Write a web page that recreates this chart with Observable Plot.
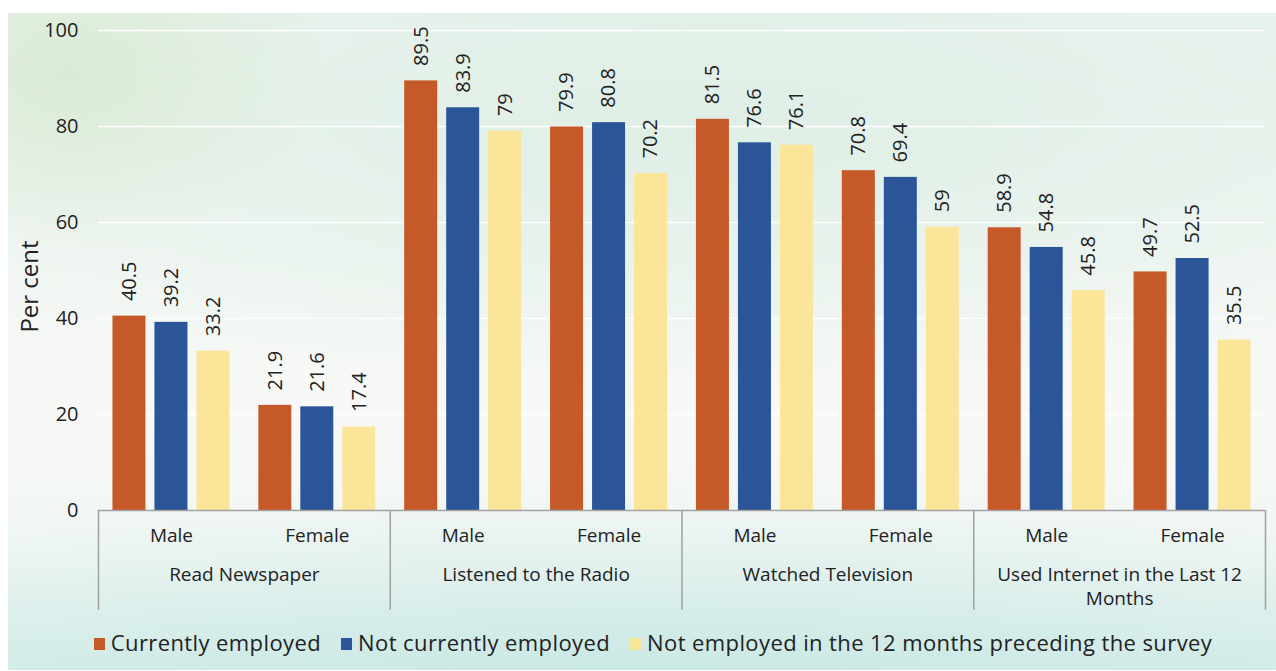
<!DOCTYPE html>
<html>
<head>
<meta charset="utf-8">
<script src="https://cdn.jsdelivr.net/npm/d3@7"></script>
<script src="https://cdn.jsdelivr.net/npm/@observablehq/plot@0.6"></script>
<style>
  html, body { margin: 0; padding: 0; background: #ffffff; }
  #wrap {
    position: absolute; left: 8px; top: 13px; width: 1268px; height: 657px;
    background:
      radial-gradient(ellipse 260px 180px at 60px 60px, rgba(214,232,205,0.75), rgba(214,232,205,0) 100%),
      radial-gradient(ellipse 900px 260px at 700px 120px, rgba(220,238,228,0.85), rgba(220,238,228,0) 100%),
      radial-gradient(ellipse 1300px 200px at 640px 680px, rgba(200,232,228,0.95), rgba(200,232,228,0) 100%),
      linear-gradient(#eaf3ee 0%, #f1f6f2 35%, #f8f9f7 60%, #f0f6f3 85%, #ddefec 100%);
  }
  #chart { position: absolute; left: 0; top: 0; }
  #legend {
    position: absolute; left: 15px; top: 627px; width: 1276px; text-align: center;
    font-family: "Open Sans", sans-serif; font-size: 22px; letter-spacing: 0.4px; color: #222;
  }
  #legend span.item { display: inline-block; margin: 0 10px; }
  #legend span.sw { display: inline-block; width: 11px; height: 12px; margin-right: 6px; vertical-align: 1px; }
</style>
</head>
<body>
<div id="wrap"></div>
<div id="chart"></div>
<div id="legend"></div>
<script>
const media = ["Read Newspaper", "Listened to the Radio", "Watched Television", "Used Internet in the Last 12 Months"];
const sexes = ["Male", "Female"];
const statuses = ["Currently employed", "Not currently employed", "Not employed in the 12 months preceding the survey"];
const colors = ["#C55A28", "#2A5699", "#FBE599"];
// values ordered: media x sex (Male, Female)
const currentlyEmployed = [40.5, 21.9, 89.5, 79.9, 81.5, 70.8, 58.9, 49.7];
const notCurrentlyEmployed = [39.2, 21.6, 83.9, 80.8, 76.6, 69.4, 54.8, 52.5];
const notEmployed12Months = [33.2, 17.4, 79, 70.2, 76.1, 59, 45.8, 35.5];
const yTicks = [0, 20, 40, 60, 80, 100];
const yTitle = "Per cent";
const mediaLabels = {
  "Read Newspaper": "Read Newspaper",
  "Listened to the Radio": "Listened to the Radio",
  "Watched Television": "Watched Television",
  "Used Internet in the Last 12 Months": "Used Internet in the Last 12\nMonths"
};

const seriesValues = [currentlyEmployed, notCurrentlyEmployed, notEmployed12Months];
const rows = [];
media.forEach((m, mi) => sexes.forEach((s, si) => statuses.forEach((st, ki) => {
  rows.push({media: m, sex: s, status: st, value: seriesValues[ki][mi * 2 + si]});
})));

const W = 1276, mL = 98, mR = 11;
const sub = (W - mL - mR) / (media.length * sexes.length);
const barW = 33, gap = 9;
const pad = (sub - 3 * barW - 2 * gap) / 2;
const font = '"Open Sans", sans-serif';

const marks = [
  Plot.gridY(yTicks, {stroke: "#ffffff", strokeOpacity: 1, strokeWidth: 1.3}),
];
statuses.forEach((st, k) => {
  const left = pad + k * (barW + gap);
  marks.push(Plot.barY(rows.filter(d => d.status === st), {
    fx: "media", x: "sex", y: "value", fill: colors[k],
    insetLeft: left, insetRight: sub - left - barW
  }));
  marks.push(Plot.text(rows.filter(d => d.status === st), {
    fx: "media", x: "sex", y: "value", text: d => String(d.value),
    rotate: -90, textAnchor: "start", dy: -15, dx: left + barW / 2 - sub / 2,
    fontSize: 20, fill: "#222", fontFamily: font
  }));
});
marks.push(
  Plot.ruleY([0], {stroke: "#a0a0a0", strokeWidth: 1.5}),
  Plot.ruleX(media.map(m => ({media: m, sex: "Male"})), {fx: "media", x: "sex", y1: 0, y2: -20.8, dx: -sub / 2, stroke: "#a0a0a0", strokeWidth: 1.5}),
  Plot.ruleX([{media: media[media.length - 1], sex: "Female"}], {fx: "media", x: "sex", y1: 0, y2: -20.8, dx: sub / 2, stroke: "#a0a0a0", strokeWidth: 1.5}),
  Plot.axisY(yTicks, {tickSize: 0, tickPadding: 20, fontSize: 20, label: null}),
  Plot.text([{media: media[0]}], {fx: "media", text: () => yTitle, frameAnchor: "left", textAnchor: "middle", rotate: -90, dx: -68, dy: 16, fontSize: 24, fill: "#222", fontFamily: font}),
  Plot.axisX({tickSize: 0, tickPadding: 18, fontSize: 19, letterSpacing: 0.5, label: null}),
  Plot.axisFx({anchor: "bottom", tickSize: 0, tickPadding: 54, fontSize: 19, letterSpacing: 0.5, lineHeight: 1.25, label: null, tickFormat: d => mediaLabels[d]})
);

const chart = Plot.plot({
  width: W, height: 625,
  marginLeft: mL, marginRight: mR, marginTop: 30, marginBottom: 115,
  style: {fontFamily: font, fontSize: "19px", color: "#222", background: "transparent", overflow: "visible"},
  fx: {domain: media, padding: 0, round: false},
  x: {domain: sexes, padding: 0, round: false},
  y: {domain: [0, 100]},
  marks
});
document.getElementById("chart").appendChild(chart);

const legend = document.getElementById("legend");
statuses.forEach((st, k) => {
  const item = document.createElement("span");
  item.className = "item";
  item.innerHTML = `<span class="sw" style="background:${colors[k]}"></span>${st}`;
  legend.appendChild(item);
});
</script>
</body>
</html>
